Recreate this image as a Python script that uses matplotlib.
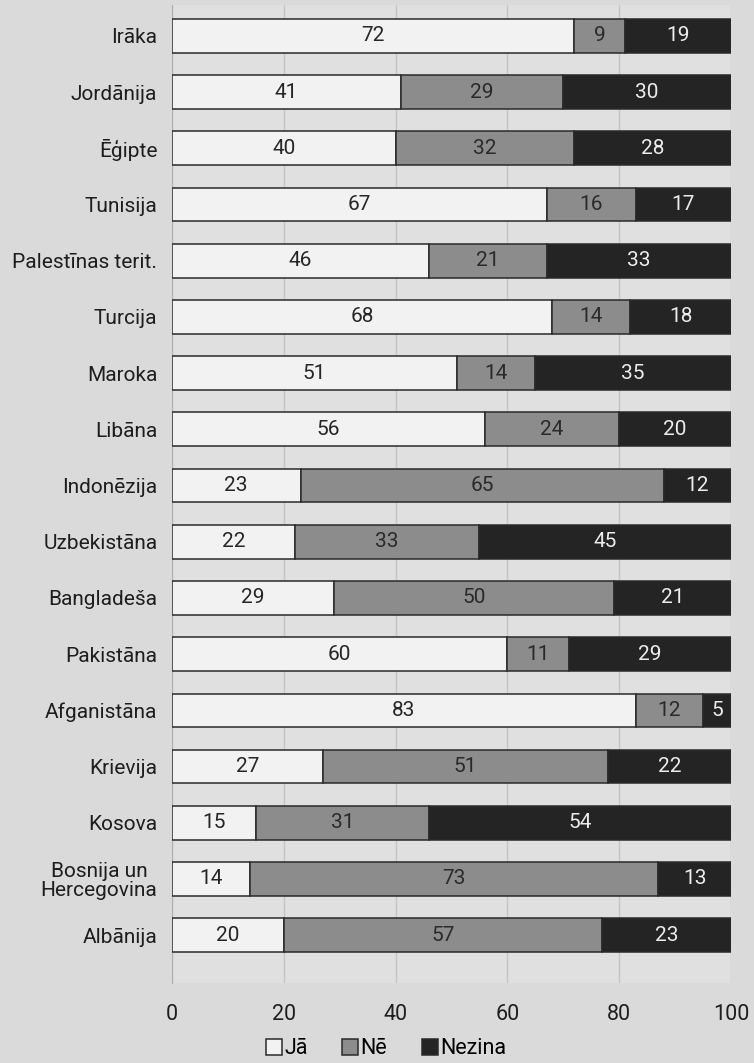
import matplotlib
matplotlib.use("Agg")
import matplotlib.pyplot as plt
import numpy as np

categories = ["Irāka", "Jordānija", "Ēģipte", "Tunisija", "Palestīnas terit.", "Turcija",
              "Maroka", "Libāna", "Indonēzija", "Uzbekistāna", "Bangladeša", "Pakistāna",
              "Afganistāna", "Krievija", "Kosova", "Bosnija un\nHercegovina", "Albānija"]
ja = [72, 41, 40, 67, 46, 68, 51, 56, 23, 22, 29, 60, 83, 27, 15, 14, 20]
ne = [9, 29, 32, 16, 21, 14, 14, 24, 65, 33, 50, 11, 12, 51, 31, 73, 57]
nezina = [19, 30, 28, 17, 33, 18, 35, 20, 12, 45, 21, 29, 5, 22, 54, 13, 23]
series_names = ["Jā", "Nē", "Nezina"]
xticks = [0, 20, 40, 60, 80, 100]

plt.rcParams['font.family'] = ['Roboto', 'DejaVu Sans']
bg = '#dadada'
fig = plt.figure(figsize=(7.54, 10.63), dpi=100, facecolor=bg)
ax = fig.add_axes([0.228, 0.0753, 0.7415, 0.92])
ax.set_facecolor('#e0e0e0')

colors = ['#f2f2f2', '#8c8c8c', '#242424']
text_colors = ['#262626', '#2a2a2a', '#ececec']
y = np.arange(len(categories))
left = np.zeros(len(categories))
for vals, c, tc, name in zip([ja, ne, nezina], colors, text_colors, series_names):
    vals = np.array(vals, dtype=float)
    ax.barh(y, vals, left=left, height=0.6, color=c, edgecolor='#2a2a2a',
            linewidth=1.1, label=name, zorder=3)
    for yi, l, v in zip(y, left, vals):
        ax.text(l + v / 2, yi, f"{int(v)}", ha='center', va='center', fontsize=15,
                color=tc, zorder=4)
    left += vals

ax.set_ylim(16.85, -0.55)
ax.set_xlim(0, 100)
ax.set_yticks(y)
ax.set_yticklabels(categories, fontsize=15, color='#1e1e1e', linespacing=1.0)
ax.set_xticks(xticks)
ax.set_xticklabels([str(t) for t in xticks], fontsize=15.5, color='#1e1e1e')
ax.tick_params(axis='y', length=0, pad=10.5)
ax.tick_params(axis='x', length=0, pad=15)
for lab in ax.get_yticklabels():
    lab.set_multialignment('center')
ax.grid(axis='x', color='#c4c4c4', linewidth=1, zorder=0)
for s in ['top', 'right', 'bottom']:
    ax.spines[s].set_visible(False)
ax.spines['left'].set_color('#b0b0b0')

fig.legend(loc='center', bbox_to_anchor=(0.512, 0.0135), ncol=3, frameon=False,
           fontsize=15.5, handlelength=0.75, handleheight=0.75, handletextpad=0.1,
           columnspacing=1.6)

fig.savefig("out.png", dpi=100, facecolor=bg)
